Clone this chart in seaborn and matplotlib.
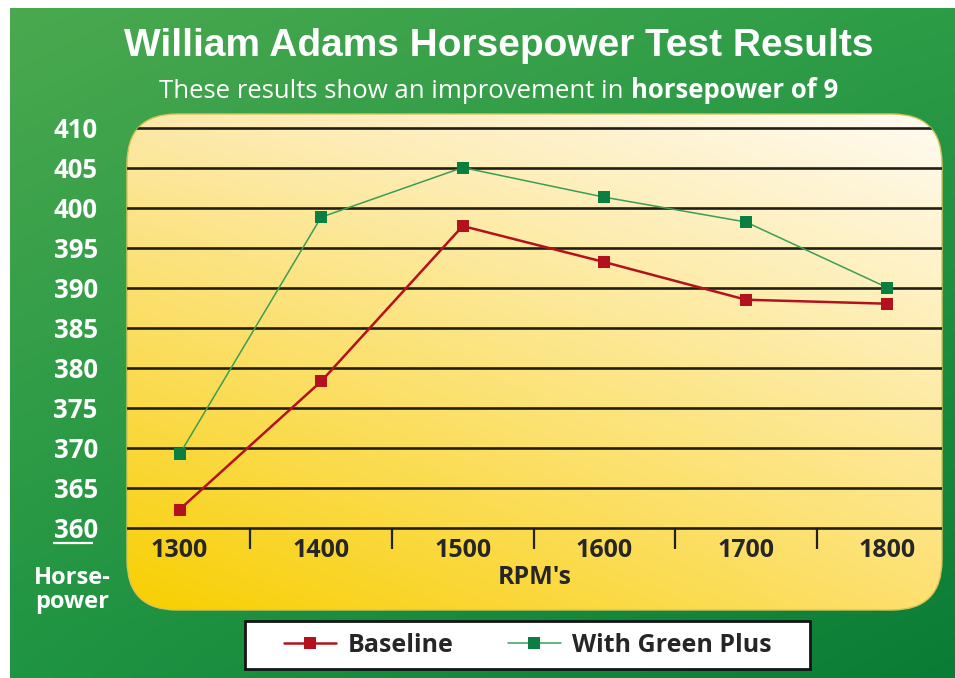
import numpy as np
import matplotlib.pyplot as plt
import seaborn as sns
from matplotlib.patches import FancyBboxPatch, Rectangle
from matplotlib.lines import Line2D
from matplotlib.colors import to_rgb

# data
rpm = [1300, 1400, 1500, 1600, 1700, 1800]
baseline_hp = [362.3, 378.3, 397.7, 393.2, 388.5, 388.0]
green_plus_hp = [369.2, 398.8, 405.0, 401.3, 398.2, 390.0]
series_names = ['Baseline', 'With Green Plus']
hp_ticks = [360, 365, 370, 375, 380, 385, 390, 395, 400, 405, 410]

title = 'William Adams Horsepower Test Results'
subtitle_plain = 'These results show an improvement in '
subtitle_bold = 'horsepower of 9'

W, H = 955, 678
RED = '#b3121c'
GREEN_LINE = '#3c9d55'
GREEN_MARK = '#0b7f42'
DARK = '#262626'

sns.set_theme(style='white')
plt.rcParams['font.family'] = ['Open Sans', 'DejaVu Sans']


def gradient(tl, tr, bl, br, n=256):
    tl, tr, bl, br = [np.array(to_rgb(c)) for c in (tl, tr, bl, br)]
    u = np.linspace(0, 1, n)[None, :, None]
    v = np.linspace(0, 1, n)[:, None, None]
    top = (1 - u) * tl + u * tr
    bot = (1 - u) * bl + u * br
    return (1 - v) * top + v * bot


fig = plt.figure(figsize=(W / 100, H / 100), dpi=100)
fig.patch.set_facecolor('white')

# background layer in pixel coordinates
bg = fig.add_axes([0, 0, 1, 1])
bg.imshow(gradient('#4aa94f', '#2c9c47', '#1f9442', '#0b7c35'),
          extent=(10, W, H, 8), aspect='auto', zorder=0, interpolation='bicubic')

panel = FancyBboxPatch((127, 114), 815, 496, boxstyle='round,pad=0,rounding_size=50',
                       fc='none', ec='#d9c25a', lw=1, zorder=2)
bg.add_patch(panel)
pim = bg.imshow(gradient('#fde9aa', '#fffbf2', '#f8cf00', '#fde070'),
                extent=(127, 942, 610, 114), aspect='auto', zorder=1, interpolation='bicubic')
pim.set_clip_path(panel)

bg.set_xlim(0, W)
bg.set_ylim(H, 0)
bg.axis('off')

# titles
bg.text(498.5, 56, title, ha='center', va='baseline', color='white', fontsize=28,
        fontweight='bold', family=['Liberation Sans', 'DejaVu Sans'])
t1 = bg.text(0, 98, subtitle_plain, ha='left', va='baseline', color='white', fontsize=18.5)
t2 = bg.text(0, 98, subtitle_bold, ha='left', va='baseline', color='white', fontsize=18.5,
             fontweight='bold')
r = fig.canvas.get_renderer()
w1 = t1.get_window_extent(r).width
w2 = t2.get_window_extent(r).width
x0 = 498.5 - (w1 + w2) / 2
t1.set_x(x0)
t2.set_x(x0 + w1)

# axis caption on the left
bg.plot([53, 93], [543, 543], color='white', lw=1.6, solid_capstyle='butt')
bg.text(72, 590, 'Horse-\npower', ha='center', va='center', color='white', fontsize=17,
        fontweight='bold', linespacing=0.95)

# legend box
bg.add_patch(Rectangle((245, 621), 565, 48, fc='white', ec='#151515', lw=2, zorder=3))

# data axes
ax = fig.add_axes([127 / W, (H - 528) / H, (942 - 127) / W, (528 - 127.5) / H])
ax.patch.set_alpha(0)
for s in ax.spines.values():
    s.set_visible(False)

for v in hp_ticks:
    gl = ax.axhline(v, color='#221f18', lw=1.9, zorder=1)
    gl.set_clip_box(None)
    gl.set_clip_path(panel)

sns.lineplot(x=rpm, y=green_plus_hp, ax=ax, color=GREEN_LINE, lw=1.1, marker='s',
             markersize=9, markeredgewidth=0, zorder=4)
ax.lines[-1].set_markerfacecolor(GREEN_MARK)
sns.lineplot(x=rpm, y=baseline_hp, ax=ax, color=RED, lw=1.8, marker='s',
             markersize=9, markeredgewidth=0, zorder=5)
ax.lines[-1].set_markerfacecolor(RED)

ax.set_xlim(1262.9, 1838.5)
ax.set_ylim(360, 410)
ax.set_xticks(rpm)
ax.set_xticklabels([str(v) for v in rpm], fontsize=18, fontweight='bold', color=DARK)
ax.set_xticks([v + 50 for v in rpm[:-1]], minor=True)
ax.set_yticks(hp_ticks)
ax.set_yticklabels([str(v) for v in hp_ticks], fontsize=18.5, fontweight='bold', color='white')
ax.tick_params(axis='x', which='major', length=0, pad=7)
ax.tick_params(axis='x', which='minor', bottom=True, direction='out', length=15,
               width=1.6, color='#222222')
ax.tick_params(axis='y', length=0, pad=21)
ax.set_xlabel("RPM's", fontsize=18, fontweight='bold', color=DARK, labelpad=2)
ax.set_ylabel('')

handles = [
    Line2D([], [], color=RED, lw=1.8, marker='s', markersize=9, markeredgewidth=0),
    Line2D([], [], color=GREEN_LINE, lw=1.1, marker='s', markersize=9, markeredgewidth=0,
           markerfacecolor=GREEN_MARK),
]
leg = fig.legend(handles, series_names, loc='center', bbox_to_anchor=(527.5 / W, 1 - 645.5 / H),
                 ncol=2, frameon=False, handlelength=2.1, handletextpad=0.45, columnspacing=2.2,
                 prop={'size': 18, 'weight': 'bold'})
for t in leg.get_texts():
    t.set_color(DARK)

fig.savefig('out.png', dpi=100)
